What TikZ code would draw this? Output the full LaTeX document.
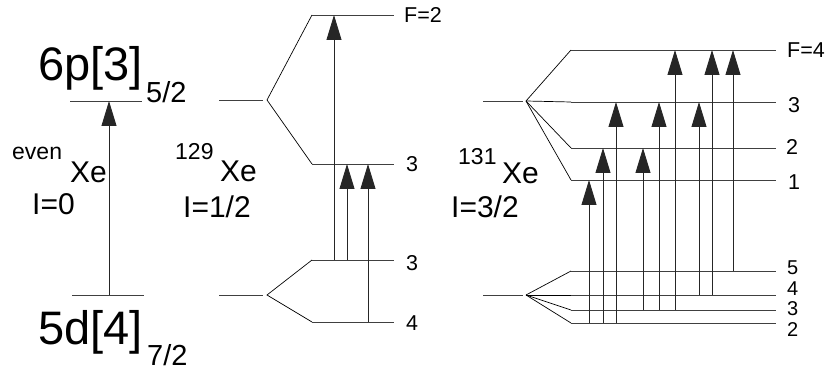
\documentclass[tikz,border=0pt]{standalone}
\usepackage{fontspec}
\setmainfont{Liberation Sans}
\usetikzlibrary{arrows.meta,positioning}

\begin{document}
\begin{tikzpicture}[x=1pt,y=-1pt,
  level/.style={draw=black!75, line width=0.9pt},
  split/.style={draw=black, line width=0.7pt},
  arrow/.style={-{Triangle[length=25pt,width=15pt]}, draw=black!85, line width=0.9pt},
  term/.style={inner sep=0pt, anchor=base west, font=\fontsize{47}{47}\selectfont},
  termsub/.style={inner sep=0pt, anchor=base west, font=\fontsize{29}{29}\selectfont},
  iso/.style={inner sep=0pt, anchor=base west, font=\fontsize{30}{30}\selectfont},
  mass/.style={inner sep=0pt, anchor=base west, font=\fontsize{23}{23}\selectfont},
  flabel/.style={inner sep=0pt, anchor=west, font=\fontsize{21.5}{21.5}\selectfont},
  slabel/.style={inner sep=0pt, anchor=west, font=\fontsize{20}{20}\selectfont}
]
  \useasboundingbox (0,0) rectangle (831,371);

  % even isotopes
  \node[term] (ep) at (38,81) {6p[3]};
  \node[termsub] (eps) at (146,103) {5/2};
  \node[term] (ed) at (38,345) {5d[4]};
  \node[termsub] (eds) at (147,366) {7/2};
  \node[mass] (evm) at (12,160) {even};
  \node[iso] (evx) at (70,183) {Xe};
  \node[iso] (evi) at (32,215) {I=0};
  \coordinate (eua) at (70,101);  \coordinate (eub) at (142,101);
  \coordinate (ela) at (72,295);  \coordinate (elb) at (144,295);
  \draw[level] (eua) -- (eub);
  \draw[level] (ela) -- (elb);
  \draw[arrow] (109,0 |- ela) -- (109,0 |- eua);

  % 129Xe
  \node[mass] (m129) at (175,160) {129};
  \node[iso] (mx) at (220,182) {Xe};
  \node[iso] (mi) at (183,218) {I=1/2};
  \coordinate (mua) at (219,100); \coordinate (mus) at (267,100);
  \coordinate (mla) at (219,295); \coordinate (mls) at (267,295);
  \coordinate (mu2a) at (312,15);  \coordinate (mu2) at (394,15);
  \coordinate (mu3a) at (312,164); \coordinate (mu3) at (394,164);
  \coordinate (ml3a) at (312,260); \coordinate (ml3) at (394,260);
  \coordinate (ml4a) at (312,322); \coordinate (ml4) at (394,322);
  \draw[level] (mua) -- (263,100);
  \draw[level] (mla) -- (263,295);
  \draw[split] (mu2a) -- (mus) -- (mu3a);
  \draw[split] (ml3a) -- (mls) -- (ml4a);
  \foreach \a/\b in {mu2a/mu2,mu3a/mu3,ml3a/ml3,ml4a/ml4}{\draw[level] (\a) -- (\b);}
  \node[flabel] (mf2) at (404,15) {F=2};
  \node[flabel] (mf3) at (406,164) {3};
  \node[flabel] (mg3) at (406,263) {3};
  \node[flabel] (mg4) at (406,323) {4};
  \foreach \x/\lo/\hi in {334/ml3/mu2,347/ml3/mu3,368/ml4/mu3}
    {\draw[arrow] (\x,0 |- \lo) -- (\x,0 |- \hi);}

  % 131Xe
  \node[mass] (r131) at (458,165) {131};
  \node[iso] (rx) at (502,184) {Xe};
  \node[iso] (ri) at (451,218) {I=3/2};
  \coordinate (rua) at (483,101); \coordinate (rus) at (526,101);
  \coordinate (rla) at (483,295); \coordinate (rls) at (526,295);
  \coordinate (ru4a) at (571,50);  \coordinate (ru4) at (776,50);
  \coordinate (ru3a) at (571,102); \coordinate (ru3) at (776,102);
  \coordinate (ru2a) at (571,148); \coordinate (ru2) at (776,148);
  \coordinate (ru1a) at (571,180); \coordinate (ru1) at (776,180);
  \coordinate (rl5a) at (571,271); \coordinate (rl5) at (776,271);
  \coordinate (rl4a) at (571,295); \coordinate (rl4) at (776,295);
  \coordinate (rl3a) at (571,310); \coordinate (rl3) at (776,310);
  \coordinate (rl2a) at (571,323); \coordinate (rl2) at (776,323);
  \draw[level] (rua) -- (523,101);
  \draw[level] (rla) -- (523,295);
  \foreach \a in {ru4a,ru3a,ru2a,ru1a}{\draw[split] (rus) -- (\a);}
  \foreach \a in {rl5a,rl4a,rl3a,rl2a}{\draw[split] (rls) -- (\a);}
  \foreach \a/\b in {ru4a/ru4,ru3a/ru3,ru2a/ru2,ru1a/ru1,rl5a/rl5,rl4a/rl4,rl3a/rl3,rl2a/rl2}{\draw[level] (\a) -- (\b);}
  \node[flabel] (rf4) at (787,50) {F=4};
  \node[flabel] (rf3) at (788,105) {3};
  \node[flabel] (rf2) at (786,147) {2};
  \node[flabel] (rf1) at (788,182) {1};
  \node[slabel] (rg5) at (787,268) {5};
  \node[slabel] (rg4) at (787,288.5) {4};
  \node[slabel] (rg3) at (787,309) {3};
  \node[slabel] (rg2) at (787,329.5) {2};
  \foreach \x/\lo/\hi in {589/rl2/ru1,603/rl2/ru2,616/rl2/ru3,643/rl3/ru2,659/rl3/ru3,
                          675/rl3/ru4,699/rl4/ru3,712/rl4/ru4,733/rl5/ru4}
    {\draw[arrow] (\x,0 |- \lo) -- (\x,0 |- \hi);}
\end{tikzpicture}
\end{document}
